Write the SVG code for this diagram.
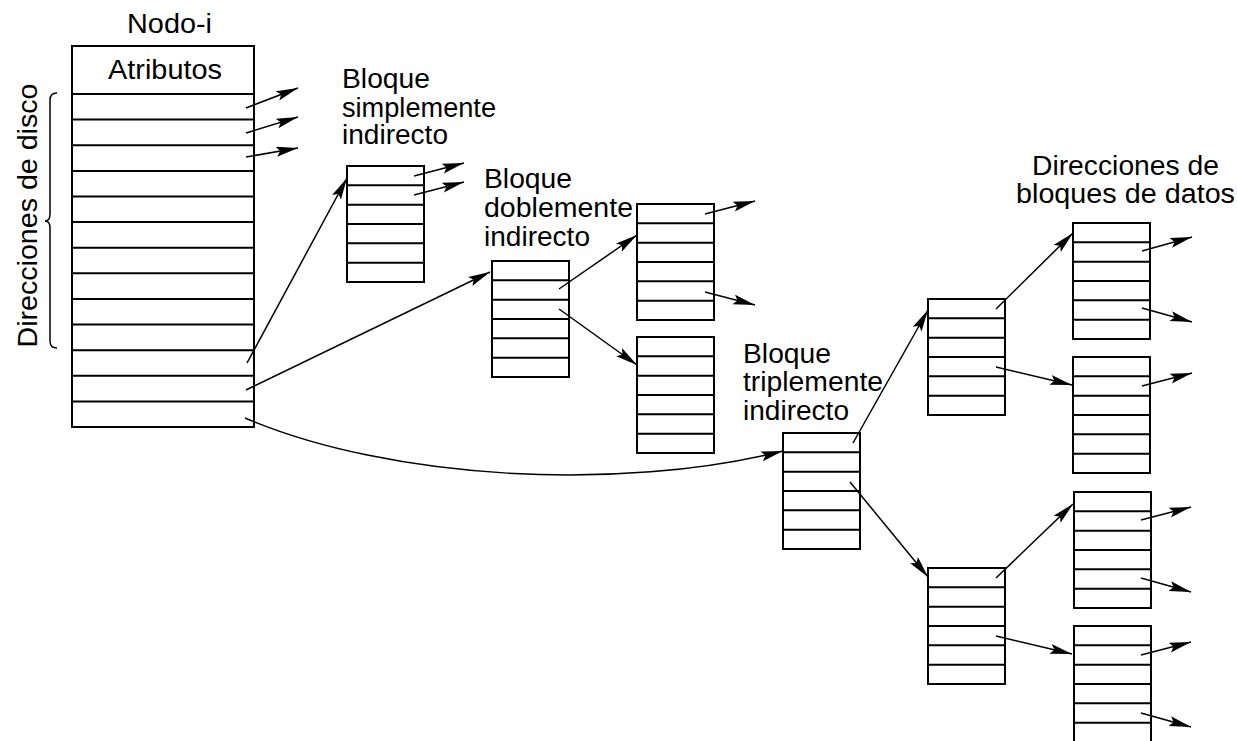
<svg xmlns="http://www.w3.org/2000/svg" xmlns:xlink="http://www.w3.org/1999/xlink" width="1237" height="741" viewBox="0 0 1237 741">
  <style>
    .box { fill: #fff; stroke: #000; stroke-width: 2; }
    .row { stroke: #000; stroke-width: 2; }
    .lbl { font-family: "Liberation Sans", Arial, sans-serif; font-size: 27px; fill: #000; }
    .ptr { fill: none; stroke: #000; stroke-width: 1.5; marker-end: url(#head); }
    .brace { fill: none; stroke: #000; stroke-width: 1.5; }
  </style>
  <defs>
    <marker id="head" markerUnits="userSpaceOnUse" markerWidth="24" markerHeight="11" refX="22" refY="5" orient="auto">
      <path d="M0,0 L22,5 L0,10 L4,5 z" fill="#000"/>
    </marker>
    <!-- indirect block: six pointer slots -->
    <g id="blk">
      <rect class="box" x="0" y="0" width="77" height="116"/>
      <path class="row" d="M0,19.3 H77 M0,38.7 H77 M0,58 H77 M0,77.3 H77 M0,96.7 H77"/>
    </g>
  </defs>

  <!-- i-node -->
  <g id="inode">
    <rect class="box" x="72" y="46" width="182" height="381"/>
    <path class="row" d="M72,94 H254 M72,119.6 H254 M72,145.2 H254 M72,170.9 H254 M72,196.5 H254 M72,222.1 H254 M72,247.7 H254 M72,273.3 H254 M72,299 H254 M72,324.6 H254 M72,350.2 H254 M72,375.8 H254 M72,401.4 H254"/>
    <text class="lbl" x="127" y="33" textLength="85" lengthAdjust="spacingAndGlyphs">Nodo-i</text>
    <text class="lbl" x="108" y="79" textLength="114" lengthAdjust="spacingAndGlyphs">Atributos</text>
  </g>

  <!-- direct address brace and label -->
  <g id="direct-label">
    <path class="brace" d="M57,93 Q50,93 50,100 L50,214 Q50,221 45,221 Q50,221 50,228 L50,341 Q50,348 57,348"/>
    <text class="lbl" transform="translate(37,215.5) rotate(-90)" x="-132" y="0" style="font-size:28px" textLength="264" lengthAdjust="spacingAndGlyphs">Direcciones de disco</text>
  </g>

  <!-- single indirect -->
  <g id="single">
    <text class="lbl" x="342" y="88" textLength="88" lengthAdjust="spacingAndGlyphs">Bloque</text>
    <text class="lbl" x="342" y="117" textLength="154" lengthAdjust="spacingAndGlyphs">simplemente</text>
    <text class="lbl" x="342" y="144" textLength="106" lengthAdjust="spacingAndGlyphs">indirecto</text>
    <use xlink:href="#blk" x="347" y="166"/>
  </g>

  <!-- double indirect -->
  <g id="double">
    <text class="lbl" x="484" y="188" textLength="88" lengthAdjust="spacingAndGlyphs">Bloque</text>
    <text class="lbl" x="484" y="217" textLength="149" lengthAdjust="spacingAndGlyphs">doblemente</text>
    <text class="lbl" x="484" y="246" textLength="106" lengthAdjust="spacingAndGlyphs">indirecto</text>
    <use xlink:href="#blk" x="492" y="261"/>
  </g>
  <g id="double-a"><use xlink:href="#blk" x="637" y="204"/></g>
  <g id="double-b"><use xlink:href="#blk" x="637" y="337"/></g>

  <!-- triple indirect -->
  <g id="triple">
    <text class="lbl" x="743" y="363" textLength="88" lengthAdjust="spacingAndGlyphs">Bloque</text>
    <text class="lbl" x="743" y="391" textLength="140" lengthAdjust="spacingAndGlyphs">triplemente</text>
    <text class="lbl" x="743" y="420" textLength="106" lengthAdjust="spacingAndGlyphs">indirecto</text>
    <use xlink:href="#blk" x="783" y="433"/>
  </g>
  <g id="triple-a"><use xlink:href="#blk" x="928" y="299"/></g>
  <g id="triple-b"><use xlink:href="#blk" x="928" y="568"/></g>

  <!-- data block address blocks -->
  <g id="data-title">
    <text class="lbl" x="1032" y="175" textLength="187" lengthAdjust="spacingAndGlyphs">Direcciones de</text>
    <text class="lbl" x="1016" y="203" textLength="219" lengthAdjust="spacingAndGlyphs">bloques de datos</text>
  </g>
  <g id="data-1"><use xlink:href="#blk" x="1073" y="223"/></g>
  <g id="data-2"><use xlink:href="#blk" x="1073" y="357"/></g>
  <g id="data-3"><use xlink:href="#blk" x="1074" y="492"/></g>
  <g id="data-4"><use xlink:href="#blk" x="1074" y="626"/></g>

  <!-- pointers -->
  <g id="connectors">
    <path class="ptr" d="M246,108 L298,88"/>
    <path class="ptr" d="M246,133 L298,117"/>
    <path class="ptr" d="M246,157 L298,148"/>
    <path class="ptr" d="M247,363 L347,178"/>
    <path class="ptr" d="M246,390 L490,272"/>
    <path class="ptr" d="M245,418 C390,480 620,492 783,451"/>

    <path class="ptr" d="M414,176 L464,163"/>
    <path class="ptr" d="M414,195 L464,182"/>

    <path class="ptr" d="M559,289 L637,235"/>
    <path class="ptr" d="M559,309 L637,365"/>
    <path class="ptr" d="M705,214 L755,201"/>
    <path class="ptr" d="M705,292 L755,305"/>

    <path class="ptr" d="M853,443 L928,310"/>
    <path class="ptr" d="M850,482 L928,577"/>
    <path class="ptr" d="M996,309 L1073,233"/>
    <path class="ptr" d="M996,367 L1072,385"/>
    <path class="ptr" d="M996,578 L1073,504"/>
    <path class="ptr" d="M996,636 L1072,654"/>

    <path class="ptr" d="M1142,251 L1192,237"/>
    <path class="ptr" d="M1142,308 L1192,322"/>
    <path class="ptr" d="M1142,386 L1192,373"/>
    <path class="ptr" d="M1141,520 L1191,507"/>
    <path class="ptr" d="M1141,578 L1191,592"/>
    <path class="ptr" d="M1141,655 L1191,642"/>
    <path class="ptr" d="M1141,713 L1191,727"/>
  </g>
</svg>
